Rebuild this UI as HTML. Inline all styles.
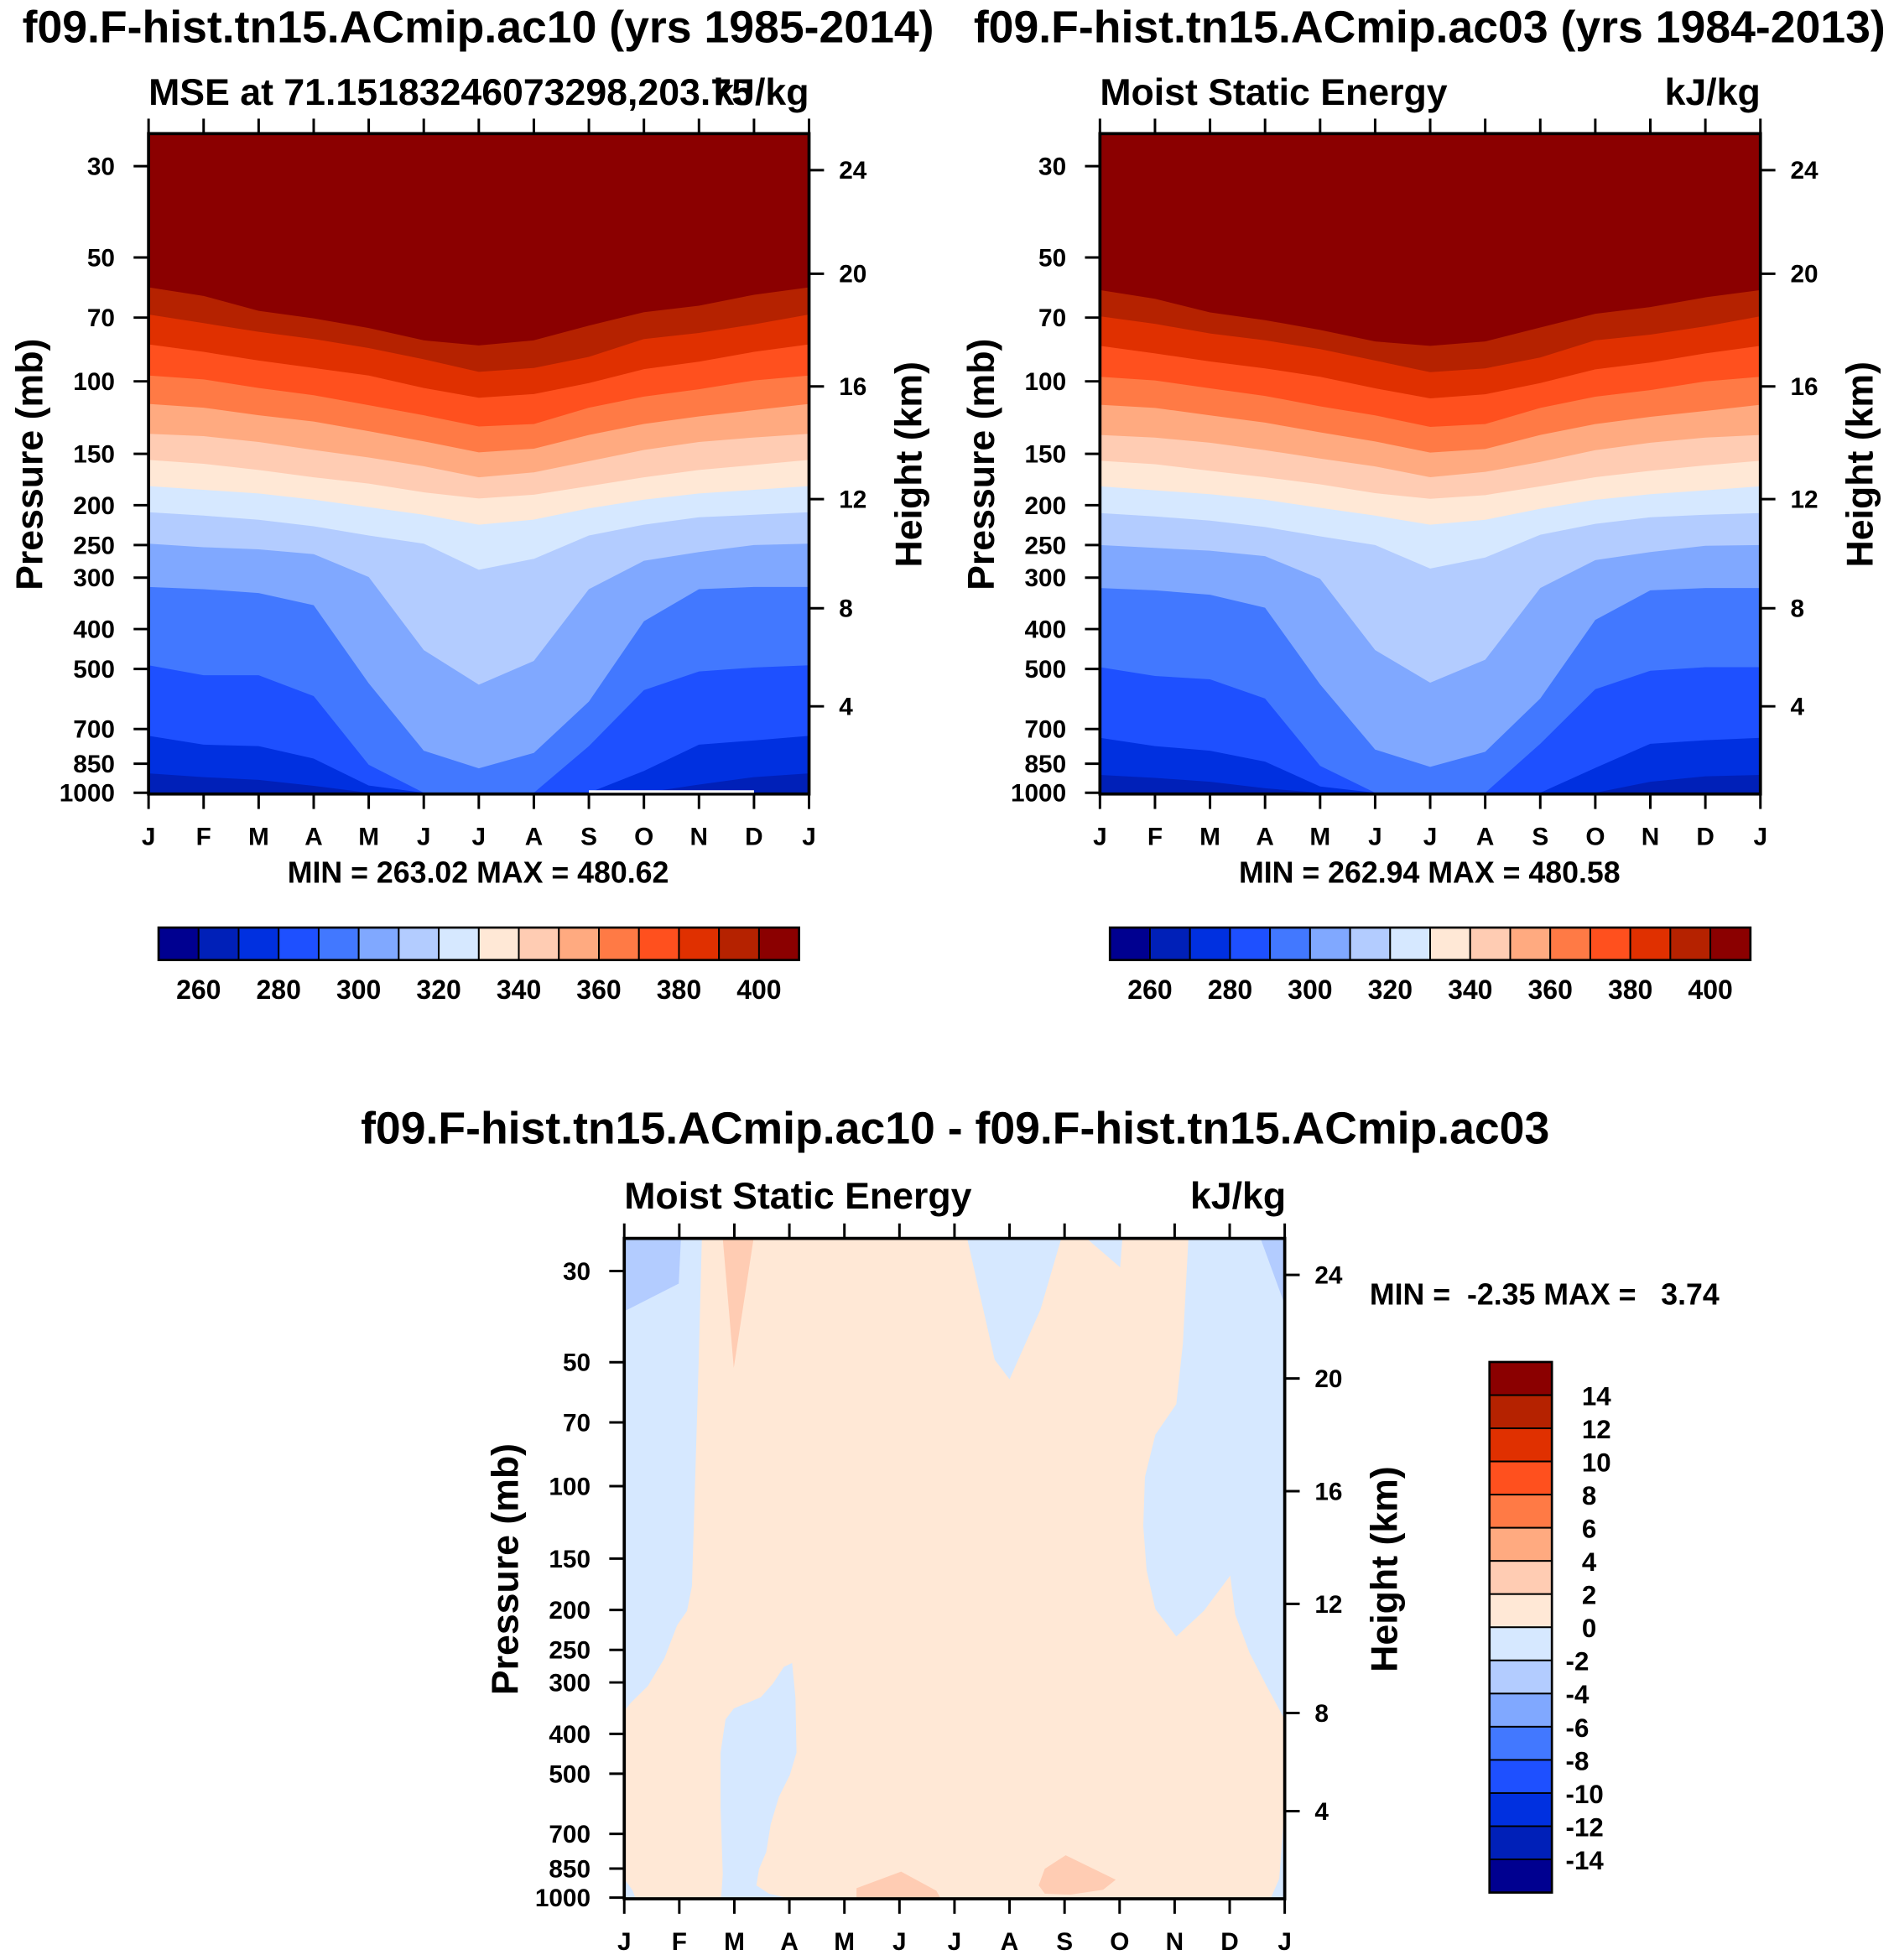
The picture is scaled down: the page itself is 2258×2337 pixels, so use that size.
<!DOCTYPE html>
<html><head><meta charset="utf-8"><title>MSE</title>
<style>html,body{margin:0;padding:0;background:#fff}svg{display:block}text{font-family:"Liberation Sans",sans-serif;font-weight:bold;fill:#000;white-space:pre}</style>
</head><body>
<svg id="root" xmlns="http://www.w3.org/2000/svg" width="2258" height="2337" viewBox="0 0 1517 1570"></svg>
<script>
// ---------- data ----------
const months = ["J","F","M","A","M","J","J","A","S","O","N","D","J"];
const pressureTicks = [30,50,70,100,150,200,250,300,400,500,700,850,1000];
const heightTicks = [4,8,12,16,20,24];
const mseLevels = [270,280,290,300,310,320,330,340,350,360,370,380,390,400];
const mseColors = ["#0020B8","#0030E0","#1E50FF","#4278FF","#80A8FF","#B3CCFF","#D6E8FF","#FFE8D6","#FFCCB3","#FFAA80","#FF7A45","#FF501E","#E03000","#B52200","#8B0000"];
const mseBarLabels = [260,280,300,320,340,360,380,400];
const diffColors = ["#000090","#0020B8","#0030E0","#1E50FF","#4278FF","#80A8FF","#B3CCFF","#D6E8FF","#FFE8D6","#FFCCB3","#FFAA80","#FF7A45","#FF501E","#E03000","#B52200","#8B0000"];
const diffBarLabels = [-14,-12,-10,-8,-6,-4,-2,0,2,4,6,8,10,12,14];
// contour-level pressures (mb) at each month, ac10
const ac10_270 = [897,916,930,962,1050,1100,1100,1100,1100,1050,955,916,897];
const ac10_280 = [727,764,770,826,960,1025,1060,1025,1050,885,764,746,727];
const ac10_290 = [490,518,518,582,855,1050,1169,1050,770,563,507,496,490];
const ac10_300 = [316,320,327,350,542,790,872,800,600,383,320,316,316];
const ac10_310 = [248,253,256,263,299,450,546,478,320,273,260,250,248];
const ac10_320 = [208,212,217,225,237,248,287,270,237,223,214,211,208];
const ac10_330 = [179.7,183.5,187.3,193.9,202.2,211,223,216.8,203.6,193.9,187.3,183.5,179.7];
const ac10_340 = [155.2,158.6,164.2,171.1,177.2,186.1,192.6,188.6,179.7,171.1,164.2,159.7,155.2];
const ac10_350 = [134.1,135.9,140.4,146.8,153.1,160.8,171.1,166.4,156.3,146.8,140.4,136.9,134.1];
const ac10_360 = [113.5,115.9,120.9,125.2,132.2,139.9,148.8,145.8,135,126.9,121.7,117.5,113.5];
const ac10_370 = [96.8,98.9,103.8,108.1,114.3,120.9,128.7,127,115.9,108.9,104.5,99.5,96.8];
const ac10_380 = [81.3,84.8,89,92.8,96.8,103.8,109.6,107.4,101,93.4,89.6,84.8,81.3];
const ac10_390 = [68.8,72.2,75.8,78.9,83,88.4,94.8,92.8,87.2,78.9,76.3,72.7,68.8];
const ac10_400 = [59.1,62,67.4,70.3,74.2,79.5,81.8,79.5,73.2,67.9,65.5,61.6,59.1];
// ac03
const ac03_270 = [905,920,940,975,1060,1100,1100,1100,1100,1040,940,912,905];
const ac03_280 = [735,770,790,840,965,1030,1060,1020,1000,870,760,745,735];
const ac03_290 = [495,520,530,590,860,1050,1160,1040,760,560,505,495,495];
const ac03_300 = [318,322,330,355,545,785,865,795,590,380,322,318,318];
const ac03_310 = [250,254,258,266,302,450,540,475,318,272,260,251,250];
const ac03_320 = [209,213,218,226,238,250,285,268,236,222,214,211,209];
const ac03_330 = [180,184,188,194,203,212,223,217,204,194,188,184,180];
const ac03_340 = [156,159,165,171,178,187,193,189,180,171,165,160,156];
const ac03_350 = [135,137,141,147,154,161,171,166,157,147,141,137,135];
const ac03_360 = [114,116,121,126,133,140,149,146,135,127,122,118,114];
const ac03_370 = [97.5,99.5,104,108.5,115,121,129,127,116,109,105,100,97.5];
const ac03_380 = [82,85.5,89.5,93,97.5,104,110,107.5,101,93.5,90,85.5,82];
const ac03_390 = [69.5,72.5,76.5,79.5,83.5,89,95,93,87.5,79.5,77,73.5,69.5];
const ac03_400 = [60,63,68,71,75,80,82,80,74,68.5,66,62.5,60];
// difference plot regions [month, pressure]
const diffNeg1 = [[0,25],[1.41,25],[1.35,51],[1.29,95],[1.23,175],[1.14,201],[0.96,218],[0.73,262],[0.43,306],[0.12,336],[0,352]];
const diffNeg2 = [[1.76,1000],[1.79,877],[1.75,605],[1.75,444],[1.84,369],[1.99,347],[2.48,326],[2.7,302],[2.9,275],[3.05,269],[3.11,326],[3.13,444],[3.01,503],[2.81,569],[2.66,664],[2.58,775],[2.45,851],[2.4,934],[2.63,978],[2.93,1000]];
const diffNeg3 = [[6.23,25],[6.73,49.3],[7.0,55],[7.56,37.3],[7.94,25]];
const diffNeg4 = [[8.4,25],[9.01,29.4],[9.05,25]];
const diffNeg5 = [[10.25,25],[10.15,45],[10.03,63.2],[9.65,75],[9.46,95],[9.43,125],[9.49,160],[9.65,199],[10.03,232],[10.53,201],[11.01,165],[11.1,205],[11.36,254],[11.67,306],[11.97,363],[12,370],[12,25]];
const diffNeg6 = [[12,600],[11.9,900],[11.75,1000],[12,1000]];
const diffNeg7 = [[0,900],[0.15,960],[0.2,1000],[0,1000]];
const diffNeg8 = [[0,25],[1.03,25],[0.99,32.2],[0.05,37.3],[0,37.5]];
const diffNeg9 = [[11.56,25],[12,25],[12,36.2]];
const diffPos1 = [[1.79,25],[2.35,25],[1.99,51.6]];
const diffPos2 = [[4.22,1000],[4.22,949],[5.03,865],[5.67,962],[5.74,1000]];
const diffPos3 = [[7.53,934],[7.64,851],[8.02,789],[8.93,905],[8.7,957],[8.1,984],[7.64,978]];

// ---------- drawing ----------
const NS="http://www.w3.org/2000/svg";
const root=document.getElementById('root');
function mk(tag,attrs,parent){const e=document.createElementNS(NS,tag);for(const k in attrs)e.setAttribute(k,attrs[k]);(parent||root).appendChild(e);return e;}
function txt(s,x,y,size,anchor,parent,extra){const t=mk('text',Object.assign({x:x,y:y,'font-size':size,'text-anchor':anchor||'start'},extra||{}),parent);t.textContent=s;return t;}
const PW=529, PH=529, PTOP=25, L30=Math.log10(30), PSCALE=329.6;
function stdP(z){ // km -> mb
  if(z<=11) return 1013.25*Math.pow(1-0.0065*z*1000/288.15,5.2559);
  if(z<=20) return 226.32*Math.exp(-(z-11)/6.3416);
  return 54.75*Math.exp(-(z-20)/6.9);
}
function makeAxes(x0,yTop){
  const y30=yTop+(L30-Math.log10(PTOP))*PSCALE;
  return {x:m=>x0+m*PW/12, y:p=>y30+(Math.log10(Math.min(p,1000))-L30)*PSCALE, x0:x0, yTop:yTop};
}
function frameAndAxes(ax,g,id){
  const {x0,yTop}=ax, yb=yTop+PH;
  const gx=mk('g',{},g);
  
  
  months.forEach((mn,i)=>{
    const xx=ax.x(i);
    mk('line',{x1:xx,x2:xx,y1:yb,y2:yb+12,stroke:'#000','stroke-width':2},gx);
    mk('line',{x1:xx,x2:xx,y1:yTop,y2:yTop-12,stroke:'#000','stroke-width':2},gx);
    const t=txt(mn,xx,yb+41,20,'middle',gx);
    
    
  });
  const gy=mk('g',{},g);
  
  
  pressureTicks.forEach(p=>{
    const yy=ax.y(p);
    mk('line',{x1:x0-12,x2:x0,y1:yy,y2:yy,stroke:'#000','stroke-width':2},gy);
    const t=txt(String(p),x0-27,yy+7,20,'end',gy);
    
    
  });
  const gh=mk('g',{},g);
  
  
  heightTicks.forEach(z=>{
    const yy=ax.y(stdP(z));
    mk('line',{x1:x0+PW,x2:x0+PW+12,y1:yy,y2:yy,stroke:'#000','stroke-width':2},gh);
    const t=txt(String(z),x0+PW+24,yy+7,20,'start',gh);
    
    
  });
  const f=mk('rect',{x:x0,y:yTop,width:PW,height:PH,fill:'none',stroke:'#000','stroke-width':2.5},g);
  
  
  const pl=txt('Pressure (mb)',0,0,30,'middle',g,{transform:`translate(${x0-85},${yTop+265}) rotate(-90)`});
  
  
  const hl=txt('Height (km)',0,0,30,'middle',g,{transform:`translate(${x0+PW+90},${yTop+265}) rotate(-90)`});
  
  
}
function clip(ax,id){
  const defs=mk('defs',{});
  const cp=mk('clipPath',{id:id},defs);
  mk('rect',{x:ax.x0,y:ax.yTop,width:PW,height:PH},cp);
  return 'url(#'+id+')';
}
function msePlot(x0,id,lines,title,sub,unit,minmax){
  const g=mk('g',{});
  
  
  const ax=makeAxes(x0,107);
  const cg=mk('g',{'clip-path':clip(ax,'c'+id)},g);
  
  
  const bg=mk('rect',{x:x0,y:107,width:PW,height:PH,fill:mseColors[0]},cg);
  
  
  lines.forEach((arr,i)=>{
    let pts=[[ax.x(0),ax.yTop-5],[ax.x(12),ax.yTop-5]];
    for(let m=12;m>=0;m--) pts.push([ax.x(m),ax.y(arr[m])]);
    const pg=mk('polygon',{points:pts.map(p=>p.join(',')).join(' '),fill:mseColors[i+1]},cg);
    
    
  });
  frameAndAxes(ax,g,id);
  const t=txt(title,x0+264,34,36,'middle',g);  
  const s=txt(sub,x0,84,30,'start',g);  
  const u=txt(unit,x0+PW,84,30,'end',g);  
  const mmx=txt(minmax,x0+264,707,24,'middle',g);  
  // colorbar
  const cb=mk('g',{},g);
  
  
  const bx=x0+8, bw=513/16;
  mseColors.slice(0,1).concat(mseColors).forEach((c,i)=>{
    const col = i===0 ? '#000090' : mseColors[i-1];
    const r=mk('rect',{x:bx+i*bw,y:743,width:bw,height:26,fill:col,stroke:'#000','stroke-width':1.3},cb);
    
    
  });
  mk('rect',{x:bx,y:743,width:513,height:26,fill:'none',stroke:'#000','stroke-width':1.8},cb);
  mseBarLabels.forEach((v,i)=>{
    const t=txt(String(v),bx+bw*(1+2*i),800,21.5,'middle',cb);
    
    
  });
  return ax;
}
const axL=msePlot(119,'left',[ac10_270,ac10_280,ac10_290,ac10_300,ac10_310,ac10_320,ac10_330,ac10_340,ac10_350,ac10_360,ac10_370,ac10_380,ac10_390,ac10_400],
  'f09.F-hist.tn15.ACmip.ac10 (yrs 1985-2014)','MSE at 71.15183246073298,203.75','kJ/kg','MIN = 263.02 MAX = 480.62');
const wl=mk('line',{x1:axL.x(8),x2:axL.x(11),y1:634,y2:634,stroke:'#fff','stroke-width':2});


msePlot(881,'right',[ac03_270,ac03_280,ac03_290,ac03_300,ac03_310,ac03_320,ac03_330,ac03_340,ac03_350,ac03_360,ac03_370,ac03_380,ac03_390,ac03_400],
  'f09.F-hist.tn15.ACmip.ac03 (yrs 1984-2013)','Moist Static Energy','kJ/kg','MIN = 262.94 MAX = 480.58');

// difference panel
(function(){
  const g=mk('g',{});
  
  
  const ax=makeAxes(500,992);
  const cg=mk('g',{'clip-path':clip(ax,'cdiff')},g);
  
  
  const bg=mk('rect',{x:500,y:992,width:PW,height:PH,fill:'#FFE8D6'},cg);
  
  
  const regs=[[diffNeg1,'#D6E8FF'],[diffNeg2,'#D6E8FF'],[diffNeg3,'#D6E8FF'],[diffNeg4,'#D6E8FF'],[diffNeg5,'#D6E8FF'],[diffNeg6,'#D6E8FF'],[diffNeg7,'#D6E8FF'],[diffNeg8,'#B3CCFF'],[diffNeg9,'#B3CCFF'],[diffPos1,'#FFCCB3'],[diffPos2,'#FFCCB3'],[diffPos3,'#FFCCB3']];
  regs.forEach(([pts,c])=>{
    const pg=mk('polygon',{points:pts.map(([m,p])=>ax.x(m)+','+ax.y(p)).join(' '),fill:c},cg);
    
    
  });
  frameAndAxes(ax,g,'diff');
  const t=txt('f09.F-hist.tn15.ACmip.ac10 - f09.F-hist.tn15.ACmip.ac03',765,916,36,'middle',g);  
  const s=txt('Moist Static Energy',500,968,30,'start',g);  
  const u=txt('kJ/kg',1030,968,30,'end',g);  
  const mm=txt('MIN =  -2.35 MAX =   3.74',1097,1045,24,'start',g);  
  const cb=mk('g',{},g);
  
  
  const bh=425/16;
  diffColors.slice().reverse().forEach((c,i)=>{
    const r=mk('rect',{x:1193,y:1091+i*bh,width:50,height:bh,fill:c,stroke:'#000','stroke-width':1.3},cb);
    
    
  });
  mk('rect',{x:1193,y:1091,width:50,height:425,fill:'none',stroke:'#000','stroke-width':1.8},cb);
  diffBarLabels.slice().reverse().forEach((v,i)=>{
    const t=txt(String(v),v<0?1254:1267,1091+bh*(i+1)+8,21,'start',cb);
    
    
  });
})();
</script>
</body></html>
